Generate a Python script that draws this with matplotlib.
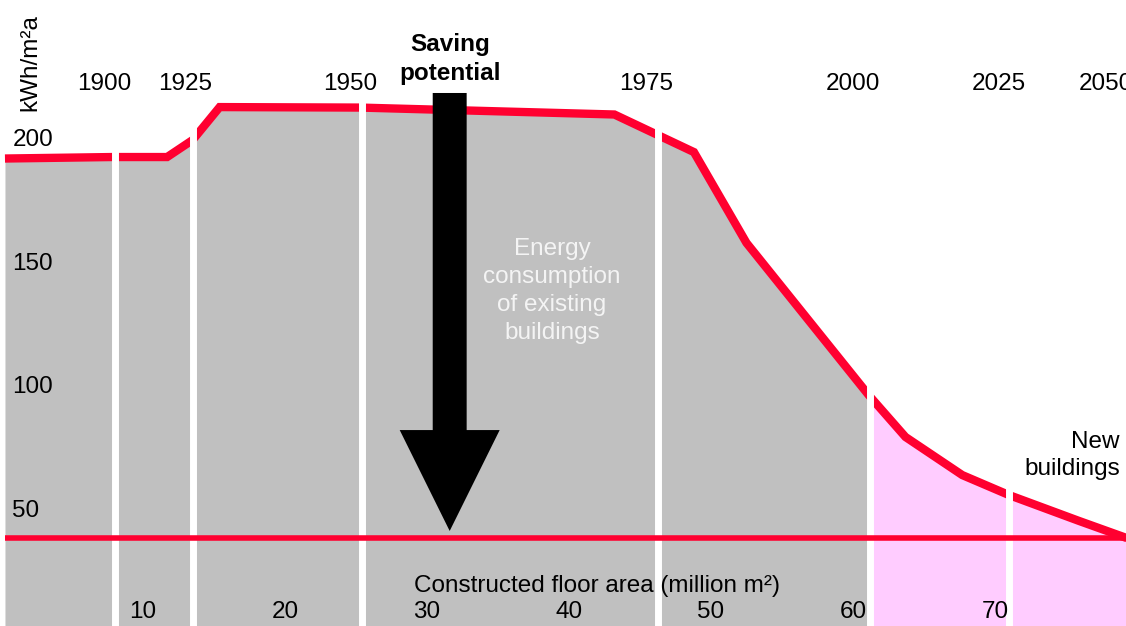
import matplotlib
matplotlib.use("Agg")
import matplotlib.pyplot as plt
import numpy as np

plt.rcParams['font.family'] = ['Liberation Sans', 'DejaVu Sans']

# energy consumption curve (kWh/m²a) over cumulative floor area (million m²)
area = [0.28, 7.8, 11.7, 13.5, 15.4, 25.3, 43.2, 48.8, 52.5, 61.1, 63.7, 67.7, 71.0, 75.9, 79.3]
consumption = [192.5, 193.1, 193.1, 200.0, 213.3, 213.1, 210.3, 195.1, 158.4, 96.9, 79.9, 64.5, 56.4, 46.0, 39.0]

# period boundaries and the year they stand for
period_area = [8.0, 13.5, 25.4, 46.3, 61.2, 71.0]
years = ['1900', '1925', '1950', '1975', '2000', '2025', '2050']
year_area = [7.25, 13.0, 24.6, 45.4, 60.0, 70.3, 77.8]

new_start = 61.2      # split existing / new buildings
target = 39.0         # horizontal target level

x_ticks = [10, 20, 30, 40, 50, 60, 70]
y_ticks = [50, 100, 150, 200]

red = '#ff0030'
grey = '#c0c0c0'
pink = '#ffccff'

fig = plt.figure(figsize=(11.26, 6.26), dpi=100)
ax = fig.add_axes([0, 0, 1, 1])
ax.set_xlim(-0.07, 79.23)
ax.set_ylim(3.47, 256.6)
ax.axis('off')

xs = np.array(area)
ys = np.array(consumption)
xfine = np.linspace(xs[0], xs[-1], 2000)
yfine = np.interp(xfine, xs, ys)
ax.fill_between(xfine, 0, yfine, where=xfine <= new_start, color=grey, lw=0, zorder=1)
ax.fill_between(xfine, 0, yfine, where=xfine >= new_start, color=pink, lw=0, zorder=1)

ax.plot(xs, ys, color=red, lw=6, solid_joinstyle='miter', solid_capstyle='butt', zorder=2)

for p in period_area:
    ax.axvline(p, color='white', lw=5, zorder=3)

ax.plot([xs[0], xs[-1]], [target, target], color=red, lw=4, solid_capstyle='butt', zorder=4)

# saving potential arrow
ax.arrow(31.6, 219, 0, 41.9 - 219, width=2.39, head_width=7.04, head_length=40.8,
         length_includes_head=True, color='black', lw=0, zorder=5)

fs = 17.5
for y, a in zip(years, year_area):
    ax.text(a, 222.6, y, ha='center', va='center', fontsize=fs, zorder=6)

for v in y_ticks:
    ax.text(0.8, v, str(v), ha='left', va='center', fontsize=fs, zorder=6)

for v in x_ticks:
    ax.text(v, 9.2, str(v), ha='center', va='center', fontsize=fs, zorder=6)

ax.text(42.0, 19.7, 'Constructed floor area (million m²)', ha='center', va='center',
        fontsize=fs, zorder=6)
ax.text(2.04, 231.5, 'kWh/m²a', ha='center', va='center', rotation=90, fontsize=fs, zorder=6)
ax.text(31.6, 232.8, 'Saving\npotential', ha='center', va='center', fontsize=fs,
        fontweight='bold', linespacing=1.3, zorder=6)
ax.text(38.8, 139.1, 'Energy\nconsumption\nof existing\nbuildings', ha='center', va='center',
        fontsize=fs, color='#f4f4f4', linespacing=1.35, zorder=6)
ax.text(78.8, 72.4, 'New\nbuildings', ha='right', va='center', fontsize=fs,
        linespacing=1.3, zorder=6)

fig.savefig('out.png', dpi=100)
